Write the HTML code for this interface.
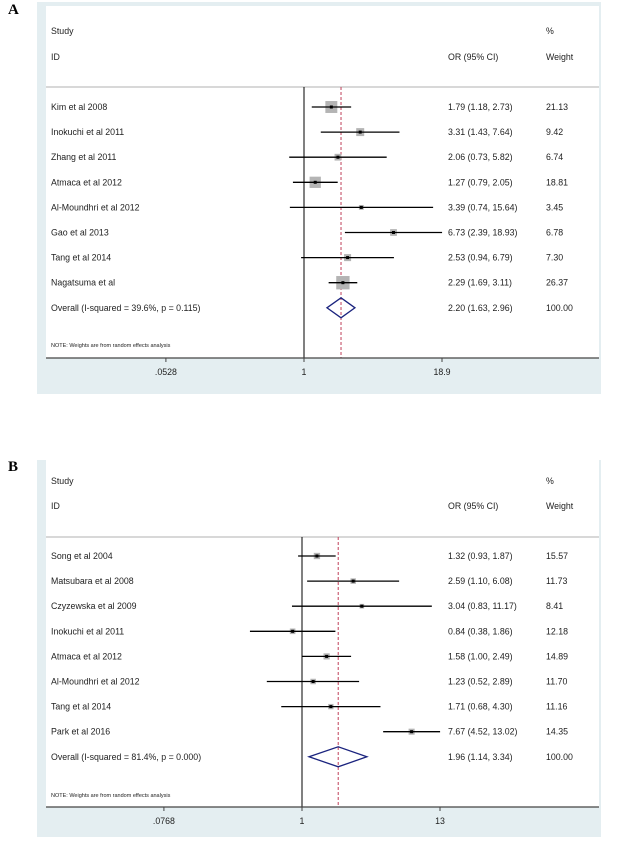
<!DOCTYPE html>
<html><head><meta charset="utf-8"><style>
body{margin:0;background:#fff;font-family:"Liberation Sans",Arial,sans-serif}
svg text{font-family:"Liberation Sans",Arial,sans-serif;font-size:8.8px;fill:#222}
</style></head><body>
<svg id="svg" width="626" height="840" xmlns="http://www.w3.org/2000/svg"></svg>
<script>
const studiesA=["Kim et al 2008","Inokuchi et al 2011","Zhang et al 2011","Atmaca et al 2012","Al-Moundhri et al 2012","Gao et al 2013","Tang et al 2014","Nagatsuma et al"];
const orA=[1.79,3.31,2.06,1.27,3.39,6.73,2.53,2.29];
const loA=[1.18,1.43,0.73,0.79,0.74,2.39,0.94,1.69];
const hiA=[2.73,7.64,5.82,2.05,15.64,18.93,6.79,3.11];
const wA=[21.13,9.42,6.74,18.81,3.45,6.78,7.30,26.37];
const overallA=[2.20,1.63,2.96];
const ticksA=[0.0528,1,18.9];
const tickLabelsA=[".0528","1","18.9"];
const studiesB=["Song et al 2004","Matsubara et al 2008","Czyzewska et al 2009","Inokuchi et al 2011","Atmaca et al 2012","Al-Moundhri et al 2012","Tang et al 2014","Park et al 2016"];
const orB=[1.32,2.59,3.04,0.84,1.58,1.23,1.71,7.67];
const loB=[0.93,1.10,0.83,0.38,1.00,0.52,0.68,4.52];
const hiB=[1.87,6.08,11.17,1.86,2.49,2.89,4.30,13.02];
const wB=[15.57,11.73,8.41,12.18,14.89,11.70,11.16,14.35];
const overallB=[1.96,1.14,3.34];
const ticksB=[0.0768,1,13];
const tickLabelsB=[".0768","1","13"];

const svg=document.getElementById('svg');
const NS="http://www.w3.org/2000/svg";
function el(tag,attrs,txt){const e=document.createElementNS(NS,tag);for(const k in attrs)e.setAttribute(k,attrs[k]);if(txt!==undefined)e.textContent=txt;svg.appendChild(e);return e;}
const f2=v=>v.toFixed(2);

function panel(cfg){
  const {label,top,studies,or,lo,hi,w,overall,ticks,tickLabels,boxK,isq}=cfg;
  const ly=top;
  let t=el('text',{x:8,y:ly+cfg.labelY,style:'font-family:Liberation Serif,serif;font-size:15px;font-weight:bold;fill:#000'},label);
  
  
  let r=el('rect',{x:37,y:ly+cfg.boxTop,width:564,height:cfg.boxBottom-cfg.boxTop,fill:'#e4eef1'});
  
  
  r=el('rect',{x:46,y:ly+cfg.innerTop,width:553,height:cfg.axisY-cfg.innerTop,fill:'#fff'});
  
  
  const scale=(cfg.xHi-cfg.x1)/Math.log(ticks[2]);
  const X=v=>cfg.x1+Math.log(v)*scale;
  const rowY=i=>ly+cfg.row0+i*cfg.rowStep;
  let l=el('line',{x1:46,x2:599,y1:ly+cfg.sepY,y2:ly+cfg.sepY,stroke:'#ccc','stroke-width':1.5});
  
  
  const hdr=[["Study",51,cfg.h1],["%",546,cfg.h1],["ID",51,cfg.h2],["OR (95% CI)",448,cfg.h2],["Weight",546,cfg.h2]];
  hdr.forEach(h=>{const e=el('text',{x:h[1],y:ly+h[2]},h[0]);
    
    });
  l=el('line',{x1:X(1),x2:X(1),y1:ly+cfg.sepY,y2:ly+cfg.axisY,stroke:'#000','stroke-width':1});
  
  
  l=el('line',{x1:X(overall[0]),x2:X(overall[0]),y1:ly+cfg.sepY,y2:ly+cfg.axisY,stroke:'#c0405a','stroke-width':1,'stroke-dasharray':'3,2'});
  
  
  studies.forEach((s,i)=>{
    const y=rowY(i);
    let e=el('text',{x:51,y:y+3},s);
    
    
    const sz=boxK*Math.sqrt(w[i]);
    e=el('rect',{x:X(or[i])-sz/2,y:y-sz/2,width:sz,height:sz,fill:'#b4b4b4'});
    
    
    e=el('line',{x1:X(lo[i]),x2:X(hi[i]),y1:y,y2:y,stroke:'#000','stroke-width':1.3});
    
    
    e=el('rect',{x:X(or[i])-1.5,y:y-1.5,width:3,height:3,fill:'#000'});
    
    
    e=el('text',{x:448,y:y+3},f2(or[i])+" ("+f2(lo[i])+", "+f2(hi[i])+")");
    
    
    e=el('text',{x:546,y:y+3},f2(w[i]));
    
    
  });
  const oy=rowY(studies.length);
  let e=el('text',{x:51,y:oy+3},"Overall  (I-squared = "+isq+")");
  
  
  const dh=cfg.diamH;
  e=el('polygon',{points:`${X(overall[1])},${oy} ${X(overall[0])},${oy-dh} ${X(overall[2])},${oy} ${X(overall[0])},${oy+dh}`,fill:'none',stroke:'#1a237e','stroke-width':1.3});
  
  
  e=el('text',{x:448,y:oy+3},f2(overall[0])+" ("+f2(overall[1])+", "+f2(overall[2])+")");
  
  
  e=el('text',{x:546,y:oy+3},"100.00");
  
  
  e=el('text',{x:51,y:ly+cfg.noteY,style:'font-size:5.5px'},"NOTE: Weights are from random effects analysis");
  
  
  e=el('line',{x1:46,x2:599,y1:ly+cfg.axisY,y2:ly+cfg.axisY,stroke:'#444','stroke-width':1.3});
  
  
  ticks.forEach((v,i)=>{
    let k=el('line',{x1:X(v),x2:X(v),y1:ly+cfg.axisY,y2:ly+cfg.axisY+4,stroke:'#444'});
    
    
    k=el('text',{x:X(v),y:ly+cfg.axisY+17,'text-anchor':'middle'},tickLabels[i]);
    
    
  });
}
panel({label:'A',top:0,labelY:14,studies:studiesA,or:orA,lo:loA,hi:hiA,w:wA,overall:overallA,ticks:ticksA,tickLabels:tickLabelsA,
  boxK:2.6,isq:"39.6%, p = 0.115",boxTop:2,boxBottom:394,innerTop:6,sepY:87,axisY:358,x1:304,xHi:442,row0:107,rowStep:25.1,h1:34,h2:60,noteY:347,diamH:10});
panel({label:'B',top:0,labelY:471,studies:studiesB,or:orB,lo:loB,hi:hiB,w:wB,overall:overallB,ticks:ticksB,tickLabels:tickLabelsB,
  boxK:1.6,isq:"81.4%, p = 0.000",boxTop:460,boxBottom:837,innerTop:460,sepY:537,axisY:807,x1:302,xHi:440,row0:556,rowStep:25.1,h1:484,h2:509,noteY:797,diamH:10});
</script>
</body></html>
